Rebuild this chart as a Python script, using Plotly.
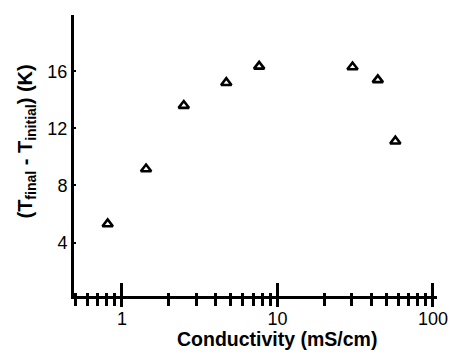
import plotly.graph_objects as go

conductivity = [0.81, 1.43, 2.50, 4.69, 7.63, 30.4, 44.2, 57.3]
delta_t = [5.3, 9.15, 13.6, 15.2, 16.35, 16.3, 15.4, 11.1]
y_ticks = [4, 8, 12, 16]
x_ticks = [1, 10, 100]
x_tick_text = ["1", "10", "100"]
x_title = "<b>Conductivity (mS/cm)</b>"
y_title = "<b>(T<sub>final</sub> - T<sub>initial</sub>) (K)</b>"

FONT = "Liberation Sans, Arial, Helvetica, sans-serif"
xr = [-0.308, 2.026]
yr = [0.25, 19.95]

fig = go.Figure()
fig.add_trace(go.Scatter(
    x=conductivity, y=delta_t, mode="markers",
    marker=dict(symbol="triangle-up-open", size=9, color="black",
                line=dict(width=2.6, color="black")),
    showlegend=False, hoverinfo="x+y"))
# helper trace to activate the overlaid x-axis (inside ticks)
fig.add_trace(go.Scatter(x=[], y=[], xaxis="x2", yaxis="y", showlegend=False))

fig.update_layout(
    width=452, height=353,
    margin=dict(l=74, r=15, t=15, b=57),
    paper_bgcolor="white", plot_bgcolor="white",
    font=dict(family=FONT, color="black", size=18),
    xaxis=dict(
        type="log", range=xr, tickvals=x_ticks, ticktext=x_tick_text,
        ticks="outside", ticklen=8, tickwidth=2.5, tickcolor="black",
        showline=True, linewidth=3, linecolor="black",
        showgrid=False, zeroline=False, automargin=False,
        ticklabelstandoff=-4,
        minor=dict(ticks="outside", ticklen=7, tickwidth=2.5, tickcolor="black",
                   dtick="D1", showgrid=False),
        tickfont=dict(size=18),
    ),
    xaxis2=dict(
        type="log", range=xr, overlaying="x", anchor="y", side="bottom",
        tickvals=x_ticks, showticklabels=False, automargin=False,
        ticks="inside", ticklen=13, tickwidth=2.5, tickcolor="black",
        showline=False, showgrid=False, zeroline=False,
        minor=dict(ticks="inside", ticklen=3, tickwidth=2.5, tickcolor="black",
                   dtick="D1", showgrid=False),
    ),
    yaxis=dict(
        range=yr, tickvals=y_ticks,
        ticks="inside", ticklen=2, tickwidth=2, tickcolor="black",
        showline=True, linewidth=3, linecolor="black",
        showgrid=False, zeroline=False, automargin=False,
        tickfont=dict(size=18),
    ),
    annotations=[
        dict(text=x_title, xref="paper", yref="paper", x=0.5606, y=-0.153,
             xanchor="center", yanchor="middle", showarrow=False,
             font=dict(size=19.5)),
        dict(text=y_title, xref="paper", yref="paper", x=-0.132, y=0.55,
             xanchor="center", yanchor="middle", showarrow=False, textangle=-90,
             font=dict(size=20)),
    ],
)

fig.write_html("out.html", config={"displayModeBar": False},
               post_script="document.body.style.margin='0';document.body.style.overflow='hidden';")
